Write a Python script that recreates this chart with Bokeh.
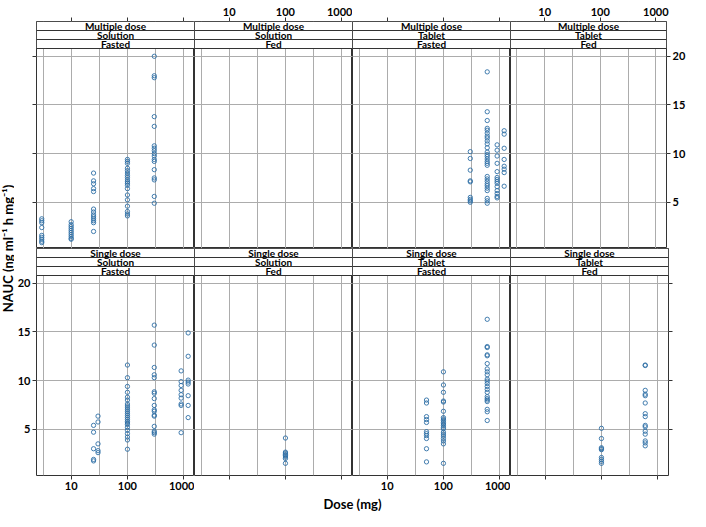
import math
from bokeh.plotting import figure
from bokeh.models import (Range1d, FixedTicker, LinearAxis, LogAxis, BoxAnnotation,
                          Label, Grid, LogScale)
from bokeh.layouts import row, column
from bokeh.embed import file_html
from bokeh.resources import INLINE

# ---------------- data ----------------
row_regimen = ["Multiple dose", "Single dose"]
col_formulation = ["Solution", "Solution", "Tablet", "Tablet"]
col_food = ["Fasted", "Fed", "Fasted", "Fed"]

x_tick_values = [10, 100, 1000]
x_tick_labels = ["10", "100", "1000"]
x_grid_values = [3.16, 10, 31.6, 100, 316, 1000]
y_tick_values = [5, 10, 15, 20]
y_tick_labels = ["5", "10", "15", "20"]

x_label = "Dose (mg)"
y_label = "NAUC (ng ml\u207b\u00b9 h mg\u207b\u00b9)"

md_sol_fasted_dose = [3, 10, 25, 100, 300]
md_sol_fasted_nauc = [
    [3.3, 3.1, 2.9, 2.4, 1.6, 1.4, 1.2, 1.0, 0.85],
    [3.0, 2.7, 2.5, 2.3, 2.1, 1.9, 1.7, 1.5, 1.3, 1.2],
    [8.0, 7.2, 6.9, 6.4, 6.1, 4.3, 4.0, 3.7, 3.5, 3.3, 3.1, 2.9, 2.0],
    [9.4, 9.2, 9.0, 8.5, 8.25, 8.0, 7.75, 7.55, 7.3, 7.1, 6.95, 6.75, 6.4, 5.75,
     5.25, 4.6, 4.05, 3.8, 3.6],
    [20.0, 18.0, 17.8, 13.8, 12.8, 10.8, 10.55, 10.3, 10.0, 9.75, 9.4, 9.2, 8.35,
     7.5, 7.3, 5.6, 4.9],
]
md_sol_fed_dose = []
md_sol_fed_nauc = []
md_tab_fasted_dose = [300, 600, 900, 1200]
md_tab_fasted_nauc = [
    [10.2, 9.5, 8.3, 7.2, 7.1, 5.5, 5.3, 5.15, 5.0],
    [18.4, 14.3, 13.4, 12.6, 12.4, 12.1, 11.8, 11.6, 11.3, 11.0, 10.6, 10.15, 9.9,
     9.7, 9.45, 9.2, 9.0, 8.8, 7.65, 7.4, 7.15, 6.9, 6.7, 6.45, 6.2, 5.4, 5.15, 4.9],
    [10.9, 10.35, 9.75, 9.0, 8.15, 7.55, 7.35, 7.15, 6.95, 6.6, 6.2, 5.9, 5.6, 5.45],
    [12.35, 12.0, 10.55, 9.4, 8.7, 8.4, 8.05, 6.65],
]
md_tab_fed_dose = []
md_tab_fed_nauc = []

sd_sol_fasted_dose = [25, 30, 100, 300, 900, 1200]
sd_sol_fasted_nauc = [
    [5.4, 4.7, 3.0, 1.9, 1.75],
    [6.35, 5.75, 3.5, 2.8, 2.6],
    [11.6, 10.3, 9.4, 8.8, 8.3, 8.0, 7.6, 7.4, 7.2, 7.0, 6.8, 6.6, 6.4, 6.2, 6.0,
     5.8, 5.65, 5.5, 5.2, 4.9, 4.55, 4.2, 3.9, 2.95],
    [15.7, 13.65, 11.35, 10.6, 10.3, 8.85, 8.7, 8.15, 7.45, 7.0, 6.85, 6.45, 6.35,
     5.3, 4.8, 4.65, 4.5],
    [11.0, 9.9, 9.5, 9.0, 8.55, 8.2, 7.6, 7.45, 4.65],
    [14.9, 12.5, 10.05, 9.85, 9.65, 8.45, 7.45, 6.2],
]
sd_sol_fed_dose = [100]
sd_sol_fed_nauc = [[4.1, 2.65, 2.55, 2.4, 2.3, 2.15, 2.0, 1.5]]
sd_tab_fasted_dose = [50, 100, 600]
sd_tab_fasted_nauc = [
    [8.0, 7.7, 6.3, 6.0, 5.7, 4.75, 4.55, 4.35, 4.05, 3.0, 1.65],
    [10.9, 9.55, 8.8, 7.9, 7.8, 6.85, 6.2, 6.05, 5.9, 5.7, 5.55, 5.4, 5.2, 5.05,
     4.7, 4.5, 4.3, 4.05, 3.8, 3.5, 1.5],
    [16.3, 13.5, 13.4, 12.65, 12.55, 11.75, 11.2, 10.9, 10.6, 10.15, 9.95, 9.7,
     9.4, 9.1, 8.8, 8.35, 8.15, 8.0, 7.85, 7.05, 6.8, 5.9],
]
sd_tab_fed_dose = [100, 600]
sd_tab_fed_nauc = [
    [5.1, 4.05, 3.1, 3.0, 2.9, 2.1, 1.9, 1.7, 1.5],
    [11.6, 11.55, 9.0, 8.6, 8.45, 7.7, 6.6, 6.3, 5.4, 5.25, 4.8, 4.5, 3.8, 3.6, 3.3],
]

panel_data = [
    [(md_sol_fasted_dose, md_sol_fasted_nauc), (md_sol_fed_dose, md_sol_fed_nauc),
     (md_tab_fasted_dose, md_tab_fasted_nauc), (md_tab_fed_dose, md_tab_fed_nauc)],
    [(sd_sol_fasted_dose, sd_sol_fasted_nauc), (sd_sol_fed_dose, sd_sol_fed_nauc),
     (sd_tab_fasted_dose, sd_tab_fasted_nauc), (sd_tab_fed_dose, sd_tab_fed_nauc)],
]

# ---------------- layout / style ----------------
FONT = "Lato"
POINT_COLOR = "#2f6fa6"
GRID_COLOR = "#acacac"
BORDER_COLOR = "#333333"

YLAB_W = 14
SIDE_L = 22        # room for left tick labels
SIDE_R = 20        # room for right tick labels
TOP = 21           # room for top axis
BOTTOM = 21        # room for bottom axis
XLAB_H = 15
FRAME_W = 158
FRAME_H = 227
STRIP_PX = 9
PLOT_PX = FRAME_H - 3 * STRIP_PX

X_LO, X_HI = 2.42, 1555.0
Y_LO, Y_HI = 0.25, 20.8
units_per_px = (Y_HI - Y_LO) / PLOT_PX
Y_TOP = Y_HI + 3 * STRIP_PX * units_per_px


def style_axis(ax, show_labels):
    ax.axis_line_color = None
    ax.major_tick_line_color = BORDER_COLOR
    ax.major_tick_out = 4
    ax.major_tick_in = 0
    ax.minor_tick_line_color = None
    ax.major_label_text_font = FONT
    ax.major_label_text_font_style = "bold"
    ax.major_label_text_font_size = "11px"
    ax.major_label_standoff = 2
    if show_labels:
        ax.major_label_text_color = "black"
    else:
        ax.major_label_text_color = None
        ax.major_label_text_alpha = 0


def x_axis(show_labels):
    ax = LogAxis(ticker=FixedTicker(ticks=x_tick_values),
                 major_label_overrides=dict(zip(x_tick_values, x_tick_labels)))
    style_axis(ax, show_labels)
    return ax


def y_axis(show_labels):
    ax = LinearAxis(ticker=FixedTicker(ticks=y_tick_values),
                    major_label_overrides=dict(zip(y_tick_values, y_tick_labels)))
    style_axis(ax, show_labels)
    return ax


x_range = Range1d(X_LO, X_HI)
y_range = Range1d(Y_LO, Y_TOP)

rows = []
for r in range(2):
    figs = []
    for c in range(4):
        bl = SIDE_L if c == 0 else 0
        br = SIDE_R if c == 3 else 0
        bt = TOP if r == 0 else 0
        bb = BOTTOM if r == 1 else 0
        p = figure(width=FRAME_W + bl + br, height=FRAME_H + bt + bb,
                   x_range=x_range, y_range=y_range,
                   x_scale=LogScale(), x_axis_type="log",
                   x_axis_location=None, y_axis_location=None,
                   toolbar_location=None, output_backend="svg",
                   min_border_left=bl, min_border_right=br,
                   min_border_top=bt, min_border_bottom=bb,
                   outline_line_color=BORDER_COLOR, outline_line_width=1,
                   background_fill_color="white", border_fill_color="white")

        p.add_layout(Grid(dimension=0, ticker=FixedTicker(ticks=x_grid_values),
                          grid_line_color=GRID_COLOR, grid_line_width=1))
        p.add_layout(Grid(dimension=1, ticker=FixedTicker(ticks=y_tick_values),
                          grid_line_color=GRID_COLOR, grid_line_width=1))

        # axes, lattice-style alternating
        if r == 0:
            p.add_layout(x_axis(c in (1, 3)), "above")
        else:
            p.add_layout(x_axis(c in (0, 2)), "below")
        if c == 0:
            p.add_layout(y_axis(r == 1), "left")
        if c == 3:
            p.add_layout(y_axis(r == 0), "right")

        doses, nauc = panel_data[r][c]
        xs, ys = [], []
        for d, vals in zip(doses, nauc):
            for v in vals:
                xs.append(d)
                ys.append(v)
        if xs:
            p.scatter(xs, ys, marker="circle", size=4.3, fill_color=None,
                      line_color=POINT_COLOR, line_width=0.9)

        # strips (bottom to top)
        strip_texts = [col_food[c], col_formulation[c], row_regimen[r]]
        for k, txt in enumerate(strip_texts):
            b = Y_HI + k * STRIP_PX * units_per_px
            t = b + STRIP_PX * units_per_px
            p.add_layout(BoxAnnotation(bottom=b, top=t, fill_color="white",
                                       fill_alpha=1.0, line_color=BORDER_COLOR,
                                       line_width=1, line_alpha=1.0))
            p.add_layout(Label(x=math.sqrt(X_LO * X_HI), y=(b + t) / 2, text=txt,
                               text_align="center", text_baseline="middle",
                               text_font=FONT, text_font_style="bold",
                               text_font_size="10px", text_color="black"))
        figs.append(p)
    rows.append(row(*figs))

grid_h = TOP + 2 * FRAME_H + BOTTOM
ylab = figure(width=YLAB_W, height=grid_h, x_range=Range1d(0, YLAB_W),
              y_range=Range1d(0, grid_h), x_axis_location=None, y_axis_location=None,
              toolbar_location=None, output_backend="svg", min_border=0,
              outline_line_color=None)
ylab.grid.visible = False
ylab.add_layout(Label(x=YLAB_W / 2, y=BOTTOM + FRAME_H, text=y_label,
                      angle=math.pi / 2, text_align="center", text_baseline="middle",
                      text_font=FONT, text_font_style="bold", text_font_size="13px",
                      text_color="black"))

total_w = YLAB_W + SIDE_L + SIDE_R + 4 * FRAME_W
xlab = figure(width=total_w, height=XLAB_H, x_range=Range1d(0, total_w),
              y_range=Range1d(0, XLAB_H), x_axis_location=None, y_axis_location=None,
              toolbar_location=None, output_backend="svg", min_border=0,
              outline_line_color=None)
xlab.grid.visible = False
xlab.add_layout(Label(x=YLAB_W + SIDE_L + 2 * FRAME_W, y=XLAB_H / 2, text=x_label,
                      text_align="center", text_baseline="middle",
                      text_font=FONT, text_font_style="bold", text_font_size="13px",
                      text_color="black"))

layout = column(row(ylab, column(*rows)), xlab)

open("out.html", "w").write(file_html(layout, INLINE))
